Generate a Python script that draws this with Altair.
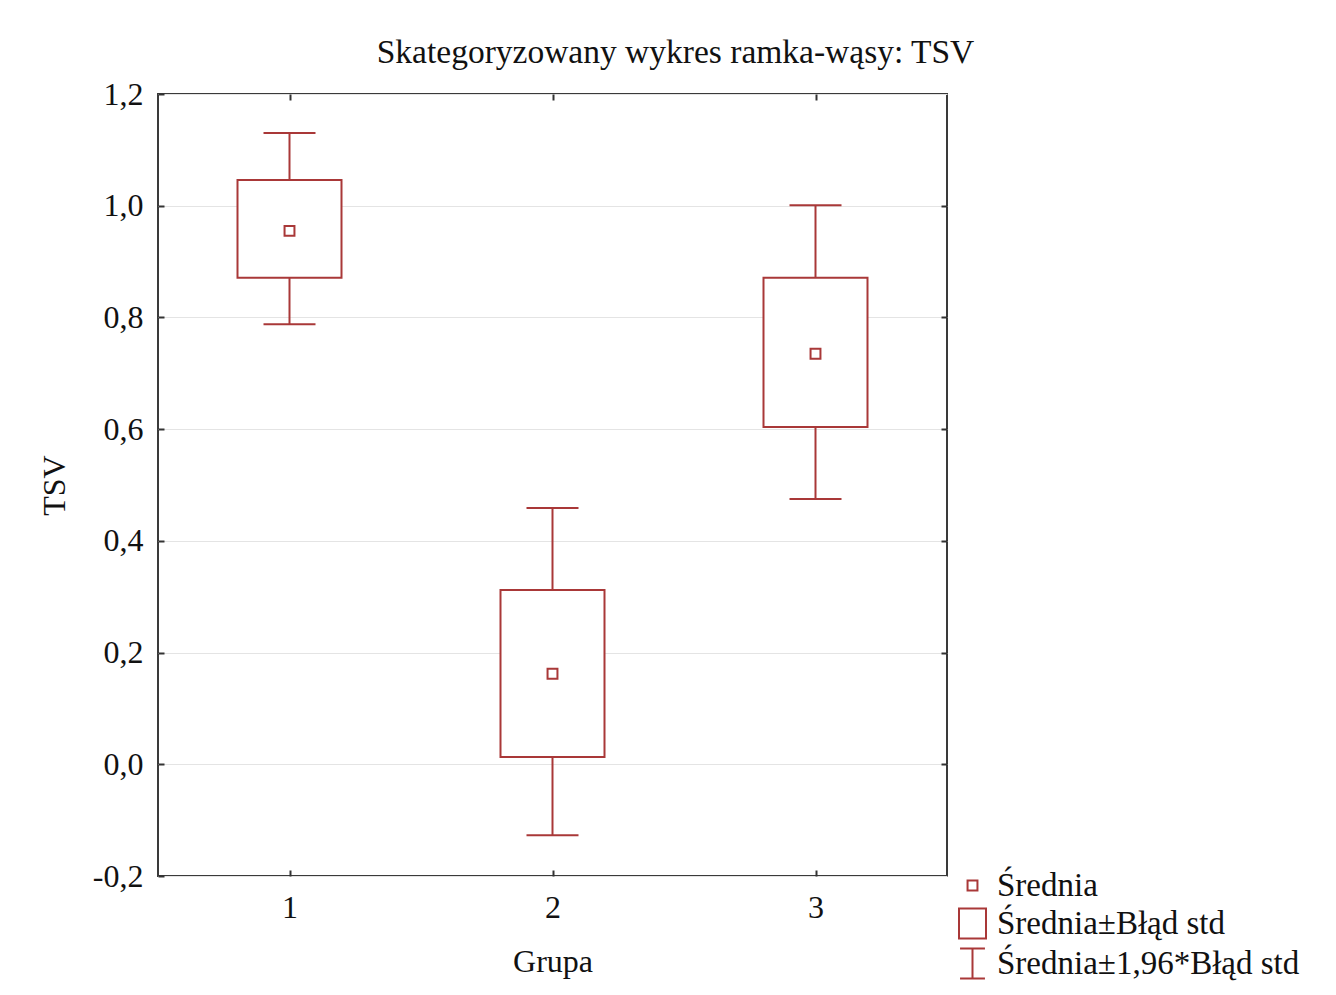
import altair as alt
import pandas as pd

groups = [1, 2, 3]
means = [0.955, 0.162, 0.735]
se_low = [0.871, 0.013, 0.604]
se_high = [1.046, 0.312, 0.871]
ci_low = [0.788, -0.127, 0.475]
ci_high = [1.130, 0.459, 1.001]
legend_labels = ["Średnia", "Średnia±Błąd std", "Średnia±1,96*Błąd std"]
y_ticks = [-0.2, 0.0, 0.2, 0.4, 0.6, 0.8, 1.0, 1.2]
x_ticks = [1, 2, 3]

df = pd.DataFrame({
    "group": groups, "mean": means, "se_low": se_low, "se_high": se_high,
    "ci_low": ci_low, "ci_high": ci_high, "kind": [legend_labels[0]] * 3,
})

RED = "#a93838"
FONT = "Liberation Serif"
TXT = "#111111"

xs = alt.Scale(domain=[0.5, 3.5], nice=False, zero=False, padding=0)
ys = alt.Scale(domain=[-0.2, 1.2], nice=False, zero=False, padding=0)

label_expr = "replace(replace(format(datum.value, '.1f'), '.', ','), '−', '-')"

x_bottom = alt.X("group:Q", scale=xs, axis=alt.Axis(
    orient="bottom", values=x_ticks, offset=-6, tickSize=6, tickColor="#333333", tickWidth=2,
    domain=False, grid=False, labelPadding=16, labelFont=FONT, labelFontSize=32,
    labelColor=TXT, title="Grupa", titleFont=FONT, titleFontSize=32, titleFontWeight="normal",
    titleColor=TXT, titlePadding=23, format="d"))
x_top = alt.X("group:Q", scale=xs, axis=alt.Axis(
    orient="top", values=x_ticks, offset=-6, tickSize=6, tickColor="#333333", tickWidth=2,
    domain=False, grid=False, labels=False, title=None))
y_left = alt.Y("se_low:Q", scale=ys, axis=alt.Axis(
    orient="left", values=y_ticks, offset=-6, tickSize=6, tickColor="#333333", tickWidth=2,
    domain=False, grid=True, gridColor="#e4e4e4", gridWidth=1,
    labelPadding=15, labelFont=FONT, labelFontSize=32, labelColor=TXT, labelExpr=label_expr,
    title="TSV", titleFont=FONT, titleFontSize=32, titleFontWeight="normal", titleColor=TXT,
    titlePadding=21))
y_right = alt.Y("ci_low:Q", scale=ys, axis=alt.Axis(
    orient="right", values=y_ticks[1:-1], offset=-6, tickSize=6, tickColor="#333333", tickWidth=2,
    domain=False, grid=False, labels=False, title=None))

base = alt.Chart(df)

whisk_lo = base.mark_rule(color=RED, strokeWidth=2).encode(
    x=alt.X("group:Q", scale=xs, axis=None),
    y=alt.Y("ci_low:Q", scale=ys, axis=None), y2="se_low:Q")
whisk_hi = base.mark_rule(color=RED, strokeWidth=2).encode(
    x=alt.X("group:Q", scale=xs, axis=None),
    y=alt.Y("se_high:Q", scale=ys, axis=None), y2="ci_high:Q")

boxes = base.mark_bar(size=104, fill="white", stroke=RED, strokeWidth=2, opacity=1).encode(
    x=x_bottom, y=y_left, y2="se_high:Q")

cap_lo = base.mark_tick(orient="horizontal", size=52, thickness=2, color=RED, opacity=1).encode(
    x=x_top, y=y_right)
cap_hi = base.mark_tick(orient="horizontal", size=52, thickness=2, color=RED, opacity=1).encode(
    x=alt.X("group:Q", scale=xs, axis=None),
    y=alt.Y("ci_high:Q", scale=ys, axis=None))

paths = [
    "M-0.33,-0.33L0.33,-0.33L0.33,0.33L-0.33,0.33Z",
    "M-0.9,-1L0.9,-1L0.9,1L-0.9,1Z",
    "M-0.83,-1L0.83,-1M0,-1L0,1M-0.83,1L0.83,1",
]

mean_pts = base.mark_point(filled=False, size=900, strokeWidth=2, color=RED, opacity=1).encode(
    x=alt.X("group:Q", scale=xs, axis=None),
    y=alt.Y("mean:Q", scale=ys, axis=None),
    shape=alt.Shape("kind:N", scale=alt.Scale(domain=legend_labels, range=paths),
                    legend=alt.Legend(
                        orient="none", legendX=798, legendY=775, title=None,
                        symbolSize=900, symbolStrokeWidth=2, symbolStrokeColor=RED,
                        symbolFillColor="transparent", labelFont=FONT, labelFontSize=33,
                        labelColor=TXT, labelOffset=8, rowPadding=1, padding=0,
                        labelLimit=500)))

chart = alt.layer(whisk_lo, whisk_hi, boxes, cap_lo, cap_hi, mean_pts).resolve_axis(
    x="independent", y="independent"
).properties(
    width=789, height=782,
    autosize=alt.AutoSizeParams(type="none"),
    padding={"left": 158, "top": 94, "right": 389, "bottom": 119},
    background="white",
    title=alt.TitleParams("Skategoryzowany wykres ramka-wąsy: TSV", font=FONT, fontSize=33.5,
                          fontWeight="normal", color=TXT, anchor="middle", dx=123, offset=8),
).configure_view(
    stroke="#3a3a3a", strokeWidth=2
)

chart.save("out.html", embed_options={"renderer": "svg", "actions": False})
